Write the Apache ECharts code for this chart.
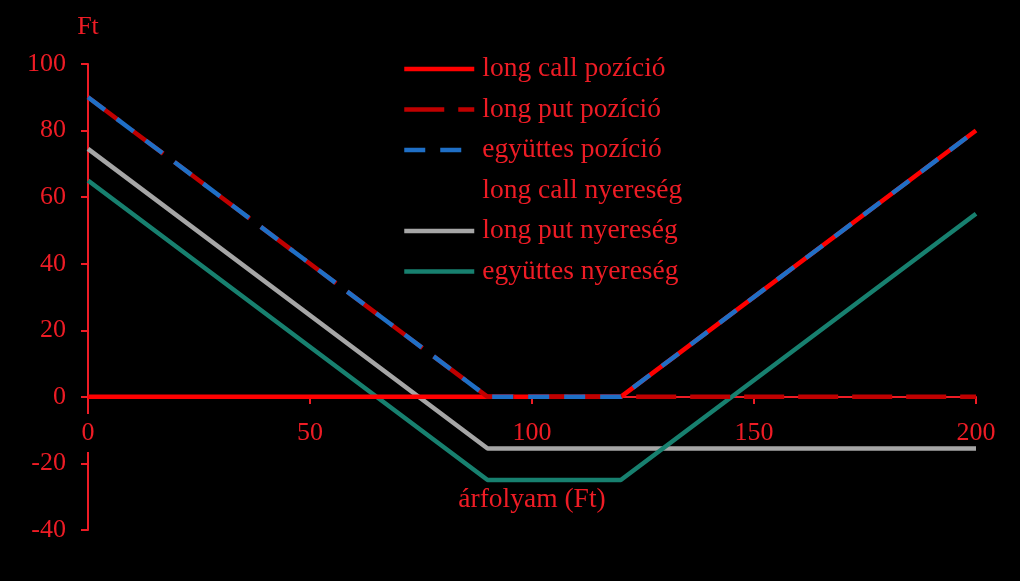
<!DOCTYPE html>
<html>
<head>
<meta charset="utf-8">
<script src="https://cdn.jsdelivr.net/npm/echarts@6/dist/echarts.min.js"></script>
<style>
  html, body { margin: 0; padding: 0; background: #000; }
  #chart { width: 1020px; height: 581px; }
</style>
</head>
<body>
<div id="chart"></div>
<script>
// price points where the payoff lines bend
var prices = [0, 90, 120, 200];
var callPos = [0, 0, 0, 80];
var putPos = [90, 0, 0, 0];
var combPos = [90, 0, 0, 80];
var callProfit = [-9.5, -9.5, -9.5, 70.5];
var putProfit = [74.5, -15.5, -15.5, -15.5];
var combProfit = [65, -25, -25, 55];

var names = ['long call pozíció', 'long put pozíció', 'együttes pozíció',
  'long call nyereség', 'long put nyereség', 'együttes nyereség'];

var red = '#ee1c25';
var font = "'Liberation Serif', serif";
var fs = 26;
var fsText = 27.5;

function pairs(ys) {
  var out = [];
  for (var i = 0; i < prices.length; i++) out.push([prices[i], ys[i]]);
  return out;
}

function line(name, ys, color, type, z) {
  return {
    name: name,
    type: 'line',
    z: z || 2,
    data: pairs(ys),
    symbol: 'none',
    animation: false,
    color: color,
    lineStyle: { color: color, width: 4.5, type: type || 'solid', cap: 'butt' }
  };
}

var chart = echarts.init(document.getElementById('chart'));

chart.setOption({
  backgroundColor: '#000',
  grid: { left: 88, right: 44, top: 64, bottom: 51, outerBoundsMode: 'none', containLabel: false },
  legend: {
    orient: 'vertical',
    left: 397,
    top: 50,
    itemWidth: 70,
    itemHeight: 14,
    itemGap: 12.5,
    data: names,
    itemStyle: { opacity: 0 },
    lineStyle: { width: 4.5 },
    textStyle: { color: red, fontFamily: font, fontSize: fsText, padding: [0, 0, 0, 3] }
  },
  xAxis: {
    type: 'value',
    min: 0,
    max: 200,
    interval: 50,
    z: 1.5,
    offset: -133,
    name: 'árfolyam (Ft)',
    nameLocation: 'middle',
    nameGap: 89,
    nameTextStyle: { color: red, fontFamily: font, fontSize: fsText },
    axisLine: { onZero: false, lineStyle: { color: red, width: 2 } },
    axisTick: { show: true, length: 7, lineStyle: { color: red, width: 2 } },
    axisLabel: {
      color: red, fontFamily: font, fontSize: fs, margin: 17,
      formatter: function (v) { return v === 0 ? '{z|0}' : '{n|' + v + '}'; },
      rich: {
        z: { color: red, fontFamily: font, fontSize: fs, backgroundColor: '#000', padding: [6, 4] },
        n: { color: red, fontFamily: font, fontSize: fs, padding: [6, 4] }
      }
    },
    splitLine: { show: false }
  },
  yAxis: {
    type: 'value',
    min: -40,
    max: 100,
    interval: 20,
    z: 0,
    name: 'Ft',
    nameLocation: 'end',
    nameGap: 24,
    nameTextStyle: { color: red, fontFamily: font, fontSize: fs },
    axisLine: { show: true, onZero: false, lineStyle: { color: red, width: 2 } },
    axisTick: { show: true, length: 7, lineStyle: { color: red, width: 2 } },
    axisLabel: { color: red, fontFamily: font, fontSize: fs, margin: 22 },
    splitLine: { show: false }
  },
  series: [
    line(names[3], callProfit, '#000000', 'solid', 1),
    line(names[4], putProfit, '#a6a6a6'),
    line(names[5], combProfit, '#17806f'),
    line(names[0], callPos, '#ff0000'),
    line(names[1], putPos, '#c00000', [40, 14]),
    line(names[2], combPos, '#1f6fc6', [21, 15])
  ]
});
</script>
</body>
</html>
